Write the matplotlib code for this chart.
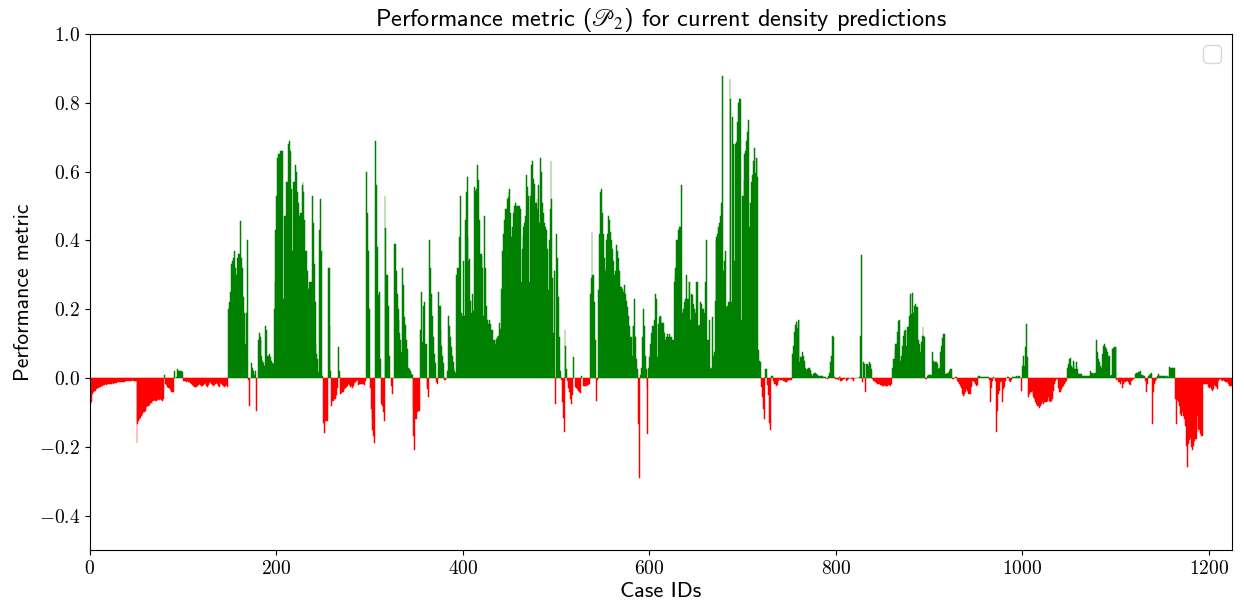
import numpy as np
import matplotlib
matplotlib.use("Agg")
import matplotlib.pyplot as plt
from matplotlib.ticker import FuncFormatter

plt.rcParams['mathtext.fontset'] = 'cm'
plt.rcParams['font.family'] = ['cmss10', 'DejaVu Sans']
plt.rcParams['axes.unicode_minus'] = False

# performance metric per case (100 cases per list)
p2_0000 = [
    -0.075, -0.07, -0.047, -0.04, -0.037, -0.037, -0.032, -0.032, -0.03, -0.028,
    -0.027, -0.025, -0.022, -0.022, -0.02, -0.02, -0.018, -0.02, -0.018, -0.017,
    -0.018, -0.017, -0.016, -0.017, -0.015, -0.016, -0.015, -0.014, -0.015, -0.013,
    -0.013, -0.012, -0.013, -0.012, -0.011, -0.012, -0.01, -0.011, -0.01, -0.009,
    -0.01, -0.008, -0.009, -0.008, -0.008, -0.007, -0.008, -0.008, -0.009, -0.008,
    -0.19, -0.135, -0.125, -0.12, -0.115, -0.11, -0.105, -0.1, -0.098, -0.095,
    -0.085, -0.082, -0.08, -0.078, -0.072, -0.07, -0.072, -0.068, -0.066, -0.064,
    -0.066, -0.068, -0.064, -0.062, -0.063, -0.06, -0.064, -0.066, -0.06, 0.009,
    -0.005, -0.018, -0.02, -0.026, -0.028, -0.03, -0.035, -0.04, -0.042, -0.04,
    0.02, 0.0, 0.002, 0.026, 0.02, 0.017, 0.02, 0.019, 0.02, 0.018]
p2_0100 = [
    -0.008, -0.01, -0.01, -0.012, -0.01, -0.013, -0.012, -0.015, -0.017, -0.018,
    -0.02, -0.022, -0.025, -0.027, -0.026, -0.024, -0.02, -0.018, -0.02, -0.022,
    -0.024, -0.02, -0.017, -0.015, -0.02, -0.022, -0.025, -0.02, -0.015, -0.012,
    -0.016, -0.02, -0.022, -0.02, -0.017, -0.014, -0.018, -0.022, -0.025, -0.02,
    -0.015, -0.018, -0.02, -0.022, -0.025, -0.022, -0.02, -0.025, 0.2, 0.22,
    0.25, 0.33, 0.34, 0.35, 0.32, 0.37, 0.32, 0.3, 0.35, 0.36,
    0.36, 0.455, 0.35, 0.32, 0.235, 0.19, 0.1, 0.19, 0.4, 0.0,
    -0.005, -0.08, 0.0, 0.045, 0.03, 0.02, 0.01, 0.02, -0.095, 0.0,
    0.11, 0.13, 0.12, 0.11, 0.065, 0.05, 0.045, 0.035, 0.15, 0.14,
    0.065, 0.065, 0.07, 0.06, 0.05, 0.045, 0.04, 0.2, 0.28, 0.43]
p2_0200 = [
    0.53, 0.64, 0.65, 0.65, 0.66, 0.66, 0.66, 0.23, 0.47, 0.47,
    0.57, 0.57, 0.68, 0.68, 0.69, 0.66, 0.55, 0.37, 0.57, 0.57,
    0.62, 0.6, 0.54, 0.51, 0.47, 0.48, 0.48, 0.56, 0.57, 0.54,
    0.46, 0.37, 0.37, 0.31, 0.26, 0.28, 0.28, 0.28, 0.53, 0.45,
    0.33, 0.22, 0.1, 0.07, 0.055, 0.017, 0.43, 0.52, 0.37, 0.007,
    -0.13, -0.16, -0.125, -0.125, -0.125, 0.32, 0.32, 0.15, 0.02, -0.08,
    -0.066, -0.066, -0.06, -0.06, -0.05, -0.03, 0.09, 0.02, -0.047, -0.045,
    -0.042, -0.04, -0.035, -0.032, -0.03, -0.025, -0.022, -0.018, -0.02, -0.025,
    -0.022, -0.028, -0.022, -0.015, -0.012, -0.01, -0.005, -0.008, -0.02, -0.018,
    -0.018, -0.018, -0.018, -0.018, -0.02, -0.01, 0.6, 0.48, 0.37, 0.2]
p2_0300 = [
    -0.03, -0.09, -0.12, -0.15, -0.17, -0.19, 0.69, 0.56, 0.38, 0.24,
    0.25, 0.055, -0.075, -0.08, -0.1, -0.125, 0.53, 0.435, 0.3, 0.3,
    0.21, 0.065, 0.0, -0.022, -0.047, 0.0, 0.39, 0.39, 0.31, 0.245,
    0.2, 0.17, 0.13, 0.11, 0.075, 0.32, 0.27, 0.177, 0.153, 0.11,
    0.085, 0.03, 0.026, 0.02, 0.012, 0.01, -0.09, -0.17, -0.21, -0.12,
    -0.12, -0.1, -0.095, -0.095, 0.14, 0.25, 0.104, 0.21, 0.22, 0.1,
    0.1, -0.027, -0.032, -0.056, 0.4, 0.32, 0.245, 0.18, 0.12, 0.07,
    0.045, -0.013, -0.018, 0.25, 0.21, 0.21, 0.14, 0.094, 0.065, 0.045,
    -0.005, -0.005, 0.0, 0.02, 0.18, 0.15, 0.12, 0.09, 0.065, 0.046,
    0.03, 0.02, 0.016, 0.3, 0.32, 0.32, 0.41, 0.53, 0.19, 0.18]
p2_0400 = [
    0.34, 0.18, 0.46, 0.54, 0.585, 0.41, 0.34, 0.345, 0.225, 0.19,
    0.245, 0.196, 0.555, 0.545, 0.55, 0.62, 0.575, 0.46, 0.36, 0.36,
    0.355, 0.32, 0.18, 0.47, 0.32, 0.21, 0.17, 0.157, 0.17, 0.157,
    0.14, 0.14, 0.11, 0.11, 0.1, 0.11, 0.113, 0.118, 0.123, 0.16,
    0.143, 0.26, 0.37, 0.42, 0.46, 0.49, 0.49, 0.52, 0.525, 0.54,
    0.55, 0.48, 0.41, 0.44, 0.48, 0.5, 0.51, 0.5, 0.5, 0.5,
    0.5, 0.49, 0.28, 0.376, 0.41, 0.44, 0.45, 0.47, 0.59, 0.555,
    0.53, 0.28, 0.53, 0.62, 0.63, 0.58, 0.565, 0.51, 0.51, 0.52,
    0.49, 0.56, 0.45, 0.64, 0.6, 0.51, 0.48, 0.45, 0.44, 0.43,
    0.376, 0.255, 0.4, 0.49, 0.63, 0.52, 0.29, 0.13, 0.31, -0.076]
p2_0500 = [
    0.42, 0.35, 0.235, 0.12, 0.02, -0.005, -0.07, -0.115, -0.158, 0.14,
    0.094, 0.026, -0.008, -0.03, -0.04, -0.06, -0.076, -0.05, 0.06, 0.0,
    -0.027, -0.03, -0.032, -0.035, -0.037, -0.042, -0.045, 0.007, 0.0, -0.022,
    -0.024, -0.022, -0.022, -0.02, -0.02, -0.018, 0.245, 0.29, 0.425, 0.3,
    0.3, 0.22, 0.11, -0.066, -0.005, 0.255, 0.42, 0.54, 0.55, 0.48,
    0.42, 0.35, 0.31, 0.32, 0.4, 0.42, 0.47, 0.46, 0.425, 0.4,
    0.376, 0.34, 0.3, 0.31, 0.386, 0.37, 0.35, 0.31, 0.27, 0.265,
    0.265, 0.26, 0.25, 0.27, 0.245, 0.225, 0.206, 0.18, 0.15, 0.12,
    0.12, 0.065, 0.15, 0.15, 0.23, 0.12, 0.055, 0.026, -0.134, -0.29,
    0.01, 0.03, 0.12, 0.2, 0.15, 0.065, 0.026, -0.03, -0.163, 0.03]
p2_0600 = [
    0.06, 0.1, 0.13, 0.15, 0.15, 0.17, 0.245, 0.23, 0.06, 0.157,
    0.177, 0.18, 0.177, 0.16, 0.16, 0.16, 0.13, 0.11, 0.12, 0.128,
    0.12, 0.128, 0.12, 0.12, 0.11, 0.11, 0.28, 0.3, 0.32, 0.4,
    0.4, 0.43, 0.44, 0.44, 0.56, 0.19, 0.2, 0.22, 0.23, 0.3,
    0.23, 0.23, 0.28, 0.28, 0.17, 0.245, 0.24, 0.215, 0.2, 0.19,
    0.28, 0.28, 0.15, 0.155, 0.22, 0.215, 0.2, 0.2, 0.2, 0.19,
    0.28, 0.4, 0.11, 0.11, 0.17, 0.026, 0.03, 0.177, 0.065, 0.075,
    0.225, 0.4, 0.41, 0.42, 0.44, 0.45, 0.47, 0.51, 0.877, 0.31,
    0.34, 0.37, 0.206, 0.21, 0.22, 0.22, 0.87, 0.81, 0.22, 0.76,
    0.68, 0.34, 0.68, 0.686, 0.745, 0.8, 0.81, 0.81, 0.17, 0.53]
p2_0700 = [
    0.53, 0.575, 0.65, 0.66, 0.69, 0.716, 0.75, 0.44, 0.51, 0.57,
    0.59, 0.63, 0.67, 0.595, 0.64, 0.64, 0.585, 0.08, 0.05, 0.046,
    -0.027, -0.056, -0.09, -0.12, 0.026, 0.026, -0.02, -0.05, -0.13, -0.15,
    -0.01, 0.005, 0.005, -0.01, -0.018, -0.018, -0.022, -0.02, -0.008, -0.003,
    -0.005, -0.005, -0.006, -0.008, -0.01, -0.01, -0.012, -0.013, -0.008, -0.006,
    -0.005, -0.005, -0.005, 0.07, 0.094, 0.133, 0.153, 0.162, 0.145, 0.17,
    0.17, 0.046, 0.06, 0.06, 0.075, 0.065, 0.05, 0.03, 0.022, 0.026,
    0.028, 0.028, 0.022, 0.012, 0.007, 0.007, 0.012, 0.016, 0.014, 0.012,
    0.009, 0.007, 0.007, 0.007, 0.007, 0.005, 0.002, 0.002, 0.002, -0.003,
    -0.001, -0.004, 0.007, 0.016, 0.046, 0.065, 0.123, 0.12, 0.002, -0.003]
p2_0800 = [
    -0.003, -0.003, -0.005, 0.002, 0.005, -0.008, -0.008, -0.005, -0.003, -0.003,
    0.001, -0.008, -0.005, -0.003, -0.001, -0.001, -0.003, -0.003, -0.008, -0.003,
    -0.001, -0.001, -0.001, -0.001, -0.001, 0.002, 0.123, 0.357, -0.013, 0.046,
    0.04, -0.042, 0.04, 0.04, 0.036, 0.036, 0.046, 0.04, 0.026, -0.003,
    -0.008, -0.01, -0.013, -0.015, -0.016, -0.018, -0.018, -0.02, -0.02, -0.021,
    -0.022, -0.022, -0.021, -0.022, -0.022, -0.022, -0.02, -0.02, -0.022, -0.018,
    0.03, 0.055, 0.055, 0.08, 0.1, 0.1, 0.133, 0.167, 0.17, 0.05,
    0.065, 0.094, 0.123, 0.138, 0.14, 0.094, 0.147, 0.147, 0.157, 0.18,
    0.245, 0.186, 0.248, 0.19, 0.21, 0.215, 0.205, 0.205, 0.11, 0.1,
    0.075, 0.104, 0.123, 0.147, 0.123, 0.12, -0.003, -0.003, 0.007, 0.009]
p2_0900 = [
    0.009, 0.009, 0.009, 0.075, 0.05, 0.048, 0.046, 0.046, 0.046, 0.04,
    0.026, 0.03, 0.075, 0.094, 0.115, 0.128, 0.128, 0.012, 0.012, 0.014,
    0.016, 0.02, 0.026, 0.026, 0.026, -0.003, -0.003, -0.001, 0.002, 0.002,
    -0.008, -0.013, -0.018, -0.022, -0.03, -0.047, -0.052, -0.052, -0.047, -0.042,
    -0.032, -0.037, -0.047, -0.047, -0.047, -0.027, -0.008, -0.008, -0.013, -0.018,
    -0.022, -0.02, 0.005, 0.005, 0.005, 0.004, 0.004, 0.004, 0.002, 0.002,
    0.002, 0.002, 0.002, 0.002, -0.005, -0.07, -0.03, -0.013, -0.008, 0.002,
    0.0, -0.01, -0.157, -0.095, -0.047, -0.037, -0.013, -0.008, -0.07, -0.032,
    -0.027, -0.013, -0.008, 0.0, 0.002, 0.002, -0.008, -0.013, -0.005, 0.002,
    0.002, 0.002, 0.002, 0.005, 0.002, 0.007, 0.005, 0.007, 0.0, -0.037]
p2_1000 = [
    0.036, 0.065, 0.036, 0.09, 0.157, 0.06, -0.056, -0.047, -0.042, -0.04,
    -0.037, -0.047, -0.056, -0.06, -0.07, -0.075, -0.08, -0.08, -0.086, -0.08,
    -0.075, -0.07, -0.075, -0.07, -0.07, -0.07, -0.07, -0.066, -0.056, -0.066,
    -0.07, -0.066, -0.06, -0.037, -0.018, -0.008, -0.003, -0.003, -0.03, -0.042,
    -0.042, -0.037, -0.032, -0.027, -0.022, -0.018, -0.013, -0.008, 0.03, 0.04,
    0.055, 0.057, 0.036, 0.03, 0.05, 0.046, 0.026, 0.026, 0.046, 0.026,
    0.012, 0.012, 0.012, 0.012, 0.007, 0.005, 0.005, 0.007, 0.007, 0.007,
    0.007, 0.007, 0.007, 0.02, 0.016, 0.014, 0.013, 0.014, 0.014, 0.11,
    0.075, 0.055, 0.046, 0.036, 0.03, 0.03, 0.07, 0.094, 0.1, 0.09,
    0.085, 0.075, 0.065, 0.065, 0.007, 0.009, 0.085, 0.087, 0.09, 0.09]
p2_1100 = [
    0.09, -0.005, -0.003, -0.013, -0.013, -0.018, -0.008, -0.03, -0.018, -0.013,
    -0.013, -0.01, -0.008, -0.013, -0.018, -0.02, -0.02, -0.008, -0.005, -0.003,
    -0.001, 0.012, 0.014, 0.016, 0.018, 0.018, 0.02, 0.009, 0.009, 0.009,
    0.007, 0.005, -0.008, -0.04, -0.018, 0.007, 0.009, 0.012, 0.014, -0.133,
    -0.04, -0.018, -0.008, -0.003, 0.002, 0.007, 0.012, 0.007, 0.007, 0.007,
    0.007, 0.007, 0.005, 0.007, 0.004, 0.007, 0.004, 0.031, 0.029, 0.028,
    0.028, 0.028, 0.028, 0.028, -0.06, -0.134, -0.065, -0.07, -0.08, -0.105,
    -0.11, -0.1, -0.11, -0.12, -0.12, -0.14, -0.197, -0.26, -0.192, -0.18,
    -0.175, -0.2, -0.21, -0.197, -0.183, -0.178, -0.178, -0.11, -0.158, -0.148,
    -0.15, -0.163, -0.168, -0.168, -0.017, -0.017, -0.017, -0.017, -0.017, -0.027]
p2_1200 = [
    -0.03, -0.027, -0.032, -0.032, -0.037, -0.032, -0.02, -0.022, -0.027, -0.032,
    -0.008, -0.003, -0.003, -0.005, -0.008, -0.005, -0.008, -0.011, -0.008, -0.013,
    -0.013, -0.017, -0.022, -0.024, -0.024]

chunks = [p2_0000, p2_0100, p2_0200, p2_0300, p2_0400, p2_0500, p2_0600,
          p2_0700, p2_0800, p2_0900, p2_1000, p2_1100, p2_1200]
metric = np.concatenate(chunks)
case_ids = np.arange(len(metric))
colors = ['green' if v >= 0 else 'red' for v in metric]

fig = plt.figure(figsize=(12.44, 6.12), dpi=100)
ax = fig.add_axes([0.0723, 0.1013, 0.9181, 0.8431])

# thin edge in the bar colour so single-case spikes stay visible
ax.bar(case_ids, metric, width=1.0, align='edge', color=colors,
       edgecolor=colors, linewidth=0.35)

ax.set_xlim(0, len(metric))
ax.set_ylim(-0.5, 1.0)
ax.set_xticks(np.arange(0, 1201, 200))
ax.set_yticks(np.arange(-0.4, 1.01, 0.2))
ax.xaxis.set_major_formatter(FuncFormatter(lambda v, p: r'$%d$' % round(v)))
ax.yaxis.set_major_formatter(FuncFormatter(lambda v, p: r'$%.1f$' % (0.0 if abs(v) < 1e-9 else v)))
ax.tick_params(labelsize=14)

ax.set_title(r'Performance metric ($\mathscr{P}_2$) for current density predictions',
             fontsize=17.5, math_fontfamily='stix', pad=5)
ax.set_xlabel('Case IDs', fontsize=16, labelpad=3)
ax.set_ylabel('Performance metric', fontsize=15.5, labelpad=4)
ax.legend(handles=[], loc='upper right', fontsize=16)

fig.savefig('out.png', dpi=100)
